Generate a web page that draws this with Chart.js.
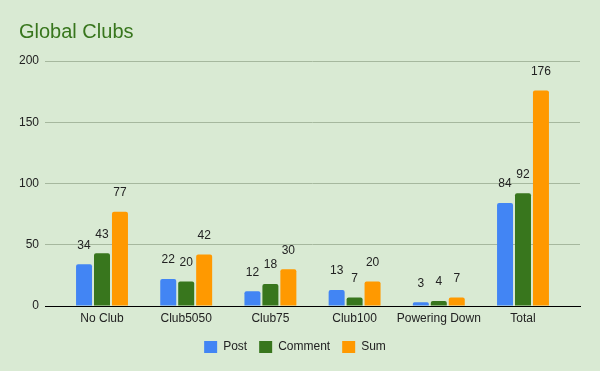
<!DOCTYPE html>
<html><head><meta charset="utf-8">
<script src="https://cdn.jsdelivr.net/npm/chart.js@4"></script>
<style>html,body{margin:0;padding:0;background:#d9ead3;}#w{width:600px;height:371px;position:relative;}</style>
</head><body><div id="w"><canvas id="c" width="600" height="371"></canvas></div>
<script>
const categories = ["No Club", "Club5050", "Club75", "Club100", "Powering Down", "Total"];
const postValues = [34, 22, 12, 13, 3, 84];
const commentValues = [43, 20, 18, 7, 4, 92];
const sumValues = [77, 42, 30, 20, 7, 176];
const yTicks = [0, 50, 100, 150, 200];

const FONT = "'Liberation Sans', Arial, sans-serif";

const bgPlugin = {
  id: 'bg',
  beforeDraw(chart) {
    const ctx = chart.ctx;
    ctx.save();
    ctx.fillStyle = '#d9ead3';
    ctx.fillRect(0, 0, chart.width, chart.height);
    ctx.restore();
  }
};
const titlePlugin = {
  id: 'ttl',
  afterDraw(chart) {
    const ctx = chart.ctx;
    ctx.save();
    ctx.fillStyle = '#38761d';
    ctx.font = '20px ' + FONT;
    ctx.textBaseline = 'alphabetic';
    ctx.fillText('Global Clubs', 19, 38);
    ctx.restore();
  }
};
const labelPlugin = {
  id: 'lbl',
  afterDatasetsDraw(chart) {
    const ctx = chart.ctx;
    ctx.save();
    ctx.font = '12px ' + FONT;
    ctx.fillStyle = '#222222';
    ctx.textAlign = 'center';
    ctx.textBaseline = 'middle';
    chart.data.datasets.forEach((ds, i) => {
      const meta = chart.getDatasetMeta(i);
      meta.data.forEach((bar, j) => {
        ctx.fillText(String(ds.data[j]), bar.x, bar.y - 19);
      });
    });
    ctx.restore();
  }
};

const SIDE = 0.177; // extra category-band padding at each end of the x axis

new Chart(document.getElementById('c'), {
  type: 'bar',
  data: {
    labels: categories,
    datasets: [
      { label: 'Post', data: postValues, backgroundColor: '#4285f4' },
      { label: 'Comment', data: commentValues, backgroundColor: '#38761d' },
      { label: 'Sum', data: sumValues, backgroundColor: '#ff9900' }
    ]
  },
  options: {
    responsive: false,
    animation: false,
    devicePixelRatio: 1,
    layout: { padding: { top: 61, right: 20, left: 10, bottom: 8 } },
    datasets: { bar: { categoryPercentage: 0.64, barPercentage: 0.89, borderRadius: 2, borderSkipped: 'bottom' } },
    plugins: {
      title: { display: false },
      tooltip: { enabled: false },
      legend: {
        position: 'bottom',
        labels: {
          font: { family: FONT, size: 12 },
          color: '#222222',
          boxWidth: 13, boxHeight: 12,
          padding: 12
        }
      }
    },
    scales: {
      x: {
        grid: { display: false, drawTicks: false },
        border: { color: '#000000', width: 1 },
        afterBuildTicks(s) {
          s._startValue = -0.5 - SIDE;
          s._valueRange = categories.length + 2 * SIDE;
        },
        afterFit(s) { s.height = 23; },
        ticks: { font: { family: FONT, size: 12 }, color: '#222222', padding: 5, maxRotation: 0 }
      },
      y: {
        min: 0, max: 200,
        afterBuildTicks(s) { s.ticks = yTicks.map(v => ({ value: v })); },
        afterFit(s) { s.width = 35; },
        grid: { color: '#a6b89e', drawTicks: false },
        border: { display: false },
        ticks: { font: { family: FONT, size: 12 }, color: '#222222', padding: 6 }
      }
    }
  },
  plugins: [bgPlugin, titlePlugin, labelPlugin]
});
</script></body></html>
